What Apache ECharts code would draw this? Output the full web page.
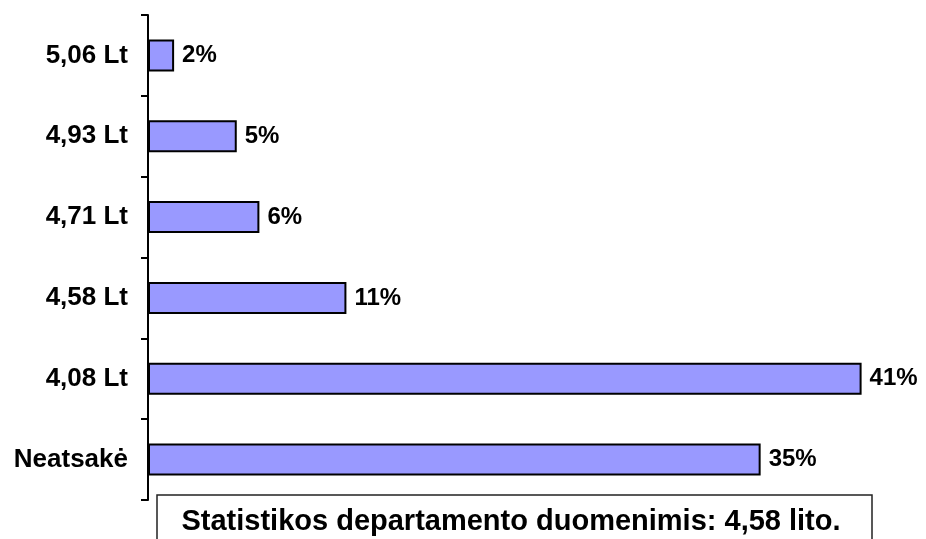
<!DOCTYPE html>
<html>
<head>
<meta charset="utf-8">
<script src="https://cdn.jsdelivr.net/npm/echarts@6/dist/echarts.min.js"></script>
<style>
  html, body { margin: 0; padding: 0; background: #fff; }
  #chart { width: 926px; height: 539px; }
</style>
</head>
<body>
<div id="chart"></div>
<script>
// categories from bottom to top
var categories = ['Neatsakė', '4,08 Lt', '4,58 Lt', '4,71 Lt', '4,93 Lt', '5,06 Lt'];
var percents = [35.2, 41, 11.4, 6.4, 5.1, 1.5];
var noteText = 'Statistikos departamento duomenimis: 4,58 lito.';

var myChart = echarts.init(document.getElementById('chart'));

var option = {
    animation: false,
    grid: {
        left: 148,
        top: 15,
        bottom: 39,
        right: 47
    },
    xAxis: {
        type: 'value',
        min: 0,
        max: 42,
        show: false
    },
    yAxis: {
        type: 'category',
        data: categories,
        axisLine: { lineStyle: { color: '#000', width: 2 } },
        axisTick: { show: true, length: 7, lineStyle: { color: '#000', width: 2 } },
        axisLabel: {
            margin: 20,
            color: '#000',
            fontFamily: 'Liberation Sans, Arial, sans-serif',
            fontWeight: 'bold',
            fontSize: 26
        }
    },
    series: [
        {
            type: 'bar',
            data: percents,
            barWidth: 32,
            itemStyle: {
                color: '#9999ff',
                borderColor: '#000',
                borderWidth: 2
            },
            label: {
                show: true,
                position: 'right',
                distance: 8,
                color: '#000',
                fontFamily: 'Liberation Sans, Arial, sans-serif',
                fontWeight: 'bold',
                fontSize: 24,
                formatter: function (p) { return Math.round(p.value) + '%'; }
            }
        }
    ],
    graphic: [
        {
            type: 'rect',
            shape: { x: 157, y: 495, width: 715, height: 60 },
            style: { fill: '#fff', stroke: '#222', lineWidth: 1.5 }
        },
        {
            type: 'text',
            x: 511,
            y: 522,
            style: {
                text: noteText,
                fill: '#000',
                font: 'bold 29px "Liberation Sans", Arial, sans-serif',
                textAlign: 'center',
                textVerticalAlign: 'middle'
            }
        }
    ]
};

myChart.setOption(option);
</script>
</body>
</html>
